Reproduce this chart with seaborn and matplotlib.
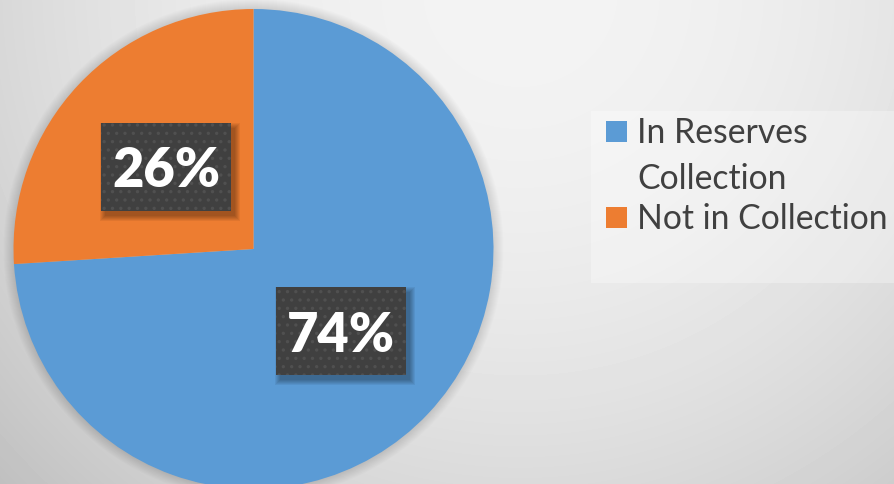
import numpy as np
import matplotlib
matplotlib.use("Agg")
import matplotlib.pyplot as plt
from matplotlib.patches import Rectangle, Circle
import seaborn as sns

# Share of items by collection status
categories = ["In Reserves Collection", "Not in Collection"]
legend_lines = [["In Reserves", "Collection"], ["Not in Collection"]]
shares = [74, 26]

sns.set_theme(style="white")
palette = sns.color_palette(["#5B9BD5", "#ED7D31"])
plt.rcParams["font.family"] = ["Lato", "DejaVu Sans"]
plt.rcParams["hatch.linewidth"] = 1.2

W, H = 895, 485
fig = plt.figure(figsize=(W / 100, H / 100), dpi=100)
ax = fig.add_axes([0, 0, 1, 1])

# soft radial backdrop, brightest near the top centre
yy, xx = np.mgrid[0:H, 0:W]
d2 = (xx - 520.0) ** 2 + (yy + 10.0) ** 2
shade = np.clip(243 - 1.0e-4 * d2, 190, 245) / 255.0
ax.imshow(shade, cmap="gray", vmin=0, vmax=1, extent=(0, W, 0, H),
          origin="upper", zorder=0, interpolation="bilinear")

cx, cy, R = 253.5, 235.0, 240.0

# faint halo under the pie
for k in range(1, 11):
    ax.add_patch(Circle((cx, cy), R + k, facecolor="black", edgecolor="none",
                        alpha=0.012, zorder=0.5))

label_pt = 39
wedges, texts, autotexts = ax.pie(
    shares, colors=palette, startangle=90, counterclock=False,
    center=(cx, cy), radius=R, autopct=lambda p: f"{p:.0f}%",
    pctdistance=0.5, wedgeprops=dict(linewidth=0),
    textprops=dict(color="white", fontsize=label_pt, fontweight="heavy"),
)
for w in wedges:
    w.set_zorder(2)

ax.set_xlim(0, W)
ax.set_ylim(0, H)
ax.set_aspect("equal")
ax.axis("off")

# dark callout boxes behind the percentage labels
renderer = fig.canvas.get_renderer()
px = label_pt * 100 / 72.0          # font size in pixels (= data units here)
cap = 0.7165 * px                   # cap height of Lato
box_h = 2.27 * cap
for t in autotexts:
    x0, y0 = t.get_position()
    ext = t.get_window_extent(renderer)
    box_w = ext.width + 0.42 * px
    t.set_verticalalignment("baseline")
    t.set_y(y0 - cap / 2)
    t.set_zorder(5)
    left, bottom = x0 - box_w / 2, y0 - box_h / 2
    # blurred drop shadow, offset down and to the right
    for k in range(6):
        ax.add_patch(Rectangle((left + 4 - k, bottom - 5 - k), box_w + 2 * k,
                               box_h + 2 * k, facecolor="black",
                               edgecolor="none", alpha=0.06, zorder=2.5))
    ax.add_patch(Rectangle((left, bottom), box_w, box_h, facecolor="#404040",
                           edgecolor="none", zorder=3))
    ax.add_patch(Rectangle((left, bottom), box_w, box_h, facecolor="none",
                           edgecolor="#505050", linewidth=0, hatch="..",
                           zorder=4))

# legend panel
ax.add_patch(Rectangle((591, H - 284), 320, 172, facecolor="white",
                       edgecolor="none", alpha=0.3, zorder=1))
baselines = [H - 143, H - 229]
line_gap = 46
for color, lines, base_y in zip(palette, legend_lines, baselines):
    ax.add_patch(Rectangle((606, base_y), 21, 21, facecolor=color,
                           edgecolor="none", zorder=3))
    for i, line in enumerate(lines):
        ax.text(637, base_y - i * line_gap, line, fontsize=24.3, color="#404040",
                va="baseline", ha="left", zorder=3)

fig.savefig("out.png", dpi=100)
